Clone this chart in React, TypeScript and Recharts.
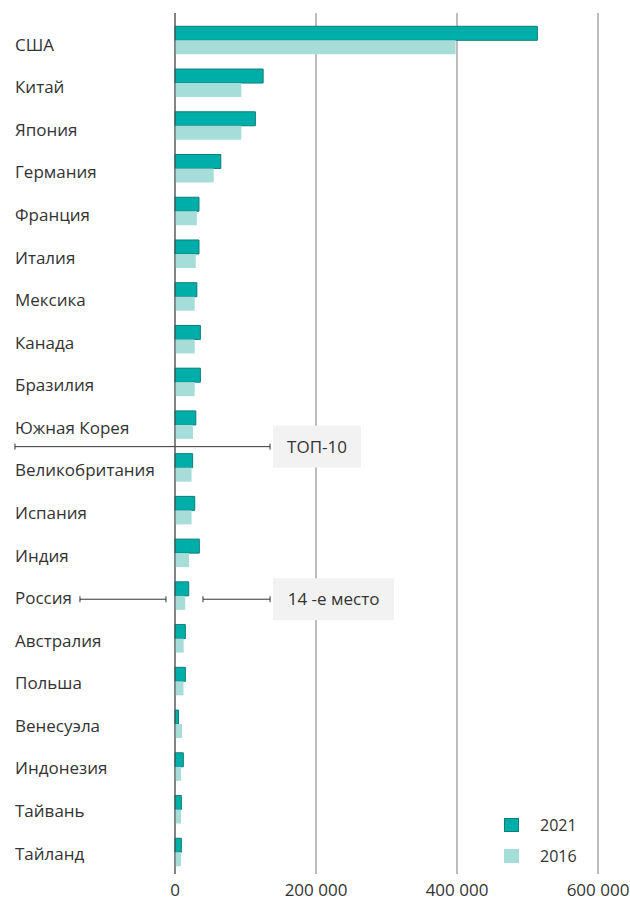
import React from 'react';
import { BarChart, Bar, XAxis, YAxis, CartesianGrid, ReferenceLine, Legend } from 'recharts';

const COUNTRIES = [
  'США', 'Китай', 'Япония', 'Германия', 'Франция', 'Италия', 'Мексика', 'Канада', 'Бразилия', 'Южная Корея',
  'Великобритания', 'Испания', 'Индия', 'Россия', 'Австралия', 'Польша', 'Венесуэла', 'Индонезия', 'Тайвань', 'Тайланд',
];
const VALUES_2021 = [
  514000, 125000, 114000, 65000, 34000, 34000, 31000, 36000, 36000, 29500,
  25000, 28000, 34500, 19500, 14700, 14700, 5000, 11800, 9000, 9000,
];
const VALUES_2016 = [
  398000, 94000, 94000, 55000, 31000, 29500, 28000, 28000, 28000, 25500,
  23500, 23500, 20000, 14500, 12300, 12000, 10000, 8500, 8500, 8500,
];
const X_TICKS = [0, 200000, 400000, 600000];
const SERIES = [
  { key: 'y2021', name: '2021', fill: '#00AEA9', stroke: '#0B7F7A' },
  { key: 'y2016', name: '2016', fill: '#A7DDD9', stroke: 'none' },
];
// annotation anchors (data space)
const TOP10_AFTER = 'Южная Корея';
const TOP10_RANGE = [-227000, 134800];
const RUSSIA = 'Россия';
const RUSSIA_LEFT = [-134800, -12800];
const RUSSIA_RIGHT = [39700, 134800];

const data = COUNTRIES.map((c, i) => ({ country: c, y2021: VALUES_2021[i], y2016: VALUES_2016[i] }));

const FONT = '"Open Sans", sans-serif';
const TEXT = '#333333';

const fmt = (n: number) => String(n).replace(/\B(?=(\d{3})+(?!\d))/g, ' ');

const CategoryTick = (props: any) => {
  const { y, payload, index } = props;
  const idx = typeof index === 'number' ? index : COUNTRIES.indexOf(payload.value);
  const shift = 4 - (3 * idx) / (COUNTRIES.length - 1);
  return (
    <text x={15} y={y + shift + 6} textAnchor="start" fill={TEXT} fontSize={17} fontFamily={FONT}>
      {payload.value}
    </text>
  );
};

const makeAnnot = (label: string | null, boxW: number, dy: number) => (p: any) => {
  const y = p.y1 + dy;
  return (
    <g>
      <line x1={p.x1} y1={y} x2={p.x2} y2={y} stroke="#333" strokeWidth={1} />
      <line x1={p.x1} y1={y - 3} x2={p.x1} y2={y + 3} stroke="#333" strokeWidth={1} />
      <line x1={p.x2} y1={y - 3} x2={p.x2} y2={y + 3} stroke="#333" strokeWidth={1} />
      {label ? (
        <g>
          <rect x={p.x2 + 3} y={y - 21} width={boxW} height={42} fill="#F2F2F2" />
          <text x={p.x2 + 3 + boxW / 2} y={y} dy="0.35em" textAnchor="middle" fill={TEXT} fontSize={17} fontFamily={FONT}>
            {label}
          </text>
        </g>
      ) : null}
    </g>
  );
};

const LegendContent = () => (
  <div style={{ fontFamily: FONT, fontSize: 16, color: TEXT }}>
    {SERIES.map((s) => (
      <div key={s.key} style={{ display: 'flex', alignItems: 'center', height: 31 }}>
        <span
          style={{
            display: 'inline-block',
            width: 15,
            height: 14,
            boxSizing: 'border-box',
            background: s.fill,
            border: s.stroke === 'none' ? 'none' : `1px solid ${s.stroke}`,
          }}
        />
        <span style={{ marginLeft: 21 }}>{s.name}</span>
      </div>
    ))}
  </div>
);

export default function App() {
  return (
    <div style={{ position: 'absolute', left: 0, top: 0, width: 630, height: 902, background: '#fff' }}>
      <BarChart
        width={630}
        height={902}
        data={data}
        layout="vertical"
        margin={{ top: 13, right: 32, bottom: 0, left: 0 }}
        barGap={0}
        barSize={14}
      >
        <CartesianGrid horizontal={false} vertical={true} stroke="#7a7a7a" strokeWidth={1} />
        <XAxis
          type="number"
          domain={[0, 600000]}
          ticks={X_TICKS}
          tickFormatter={fmt}
          axisLine={false}
          tickLine={false}
          tickSize={6}
          tickMargin={4}
          height={28}
          interval={0}
          tick={{ fill: TEXT, fontSize: 17, fontFamily: FONT }}
        />
        <YAxis
          type="category"
          dataKey="country"
          width={175}
          axisLine={{ stroke: '#4a4a4a', strokeWidth: 1 }}
          tickLine={false}
          interval={0}
          padding={{ top: 6.3, bottom: 0 }}
          tick={<CategoryTick />}
        />
        {SERIES.map((s) => (
          <Bar
            key={s.key}
            dataKey={s.key}
            name={s.name}
            fill={s.fill}
            stroke={s.stroke}
            strokeWidth={s.stroke === 'none' ? 0 : 1}
            isAnimationActive={false}
          />
        ))}
        <ReferenceLine
          segment={[{ x: TOP10_RANGE[0], y: TOP10_AFTER }, { x: TOP10_RANGE[1], y: TOP10_AFTER }]}
          position="end"
          ifOverflow="visible"
          stroke="#333"
          shape={makeAnnot('ТОП-10', 88, 0)}
        />
        <ReferenceLine
          segment={[{ x: RUSSIA_LEFT[0], y: RUSSIA }, { x: RUSSIA_LEFT[1], y: RUSSIA }]}
          position="middle"
          ifOverflow="visible"
          stroke="#333"
          shape={makeAnnot(null, 0, 3)}
        />
        <ReferenceLine
          segment={[{ x: RUSSIA_RIGHT[0], y: RUSSIA }, { x: RUSSIA_RIGHT[1], y: RUSSIA }]}
          position="middle"
          ifOverflow="visible"
          stroke="#333"
          shape={makeAnnot('14 -е место', 121, 3)}
        />
        <Legend
          layout="vertical"
          align="center"
          verticalAlign="middle"
          content={<LegendContent />}
          wrapperStyle={{ position: 'absolute', left: 504, top: 809, width: 110, height: 62 }}
        />
      </BarChart>
    </div>
  );
}
